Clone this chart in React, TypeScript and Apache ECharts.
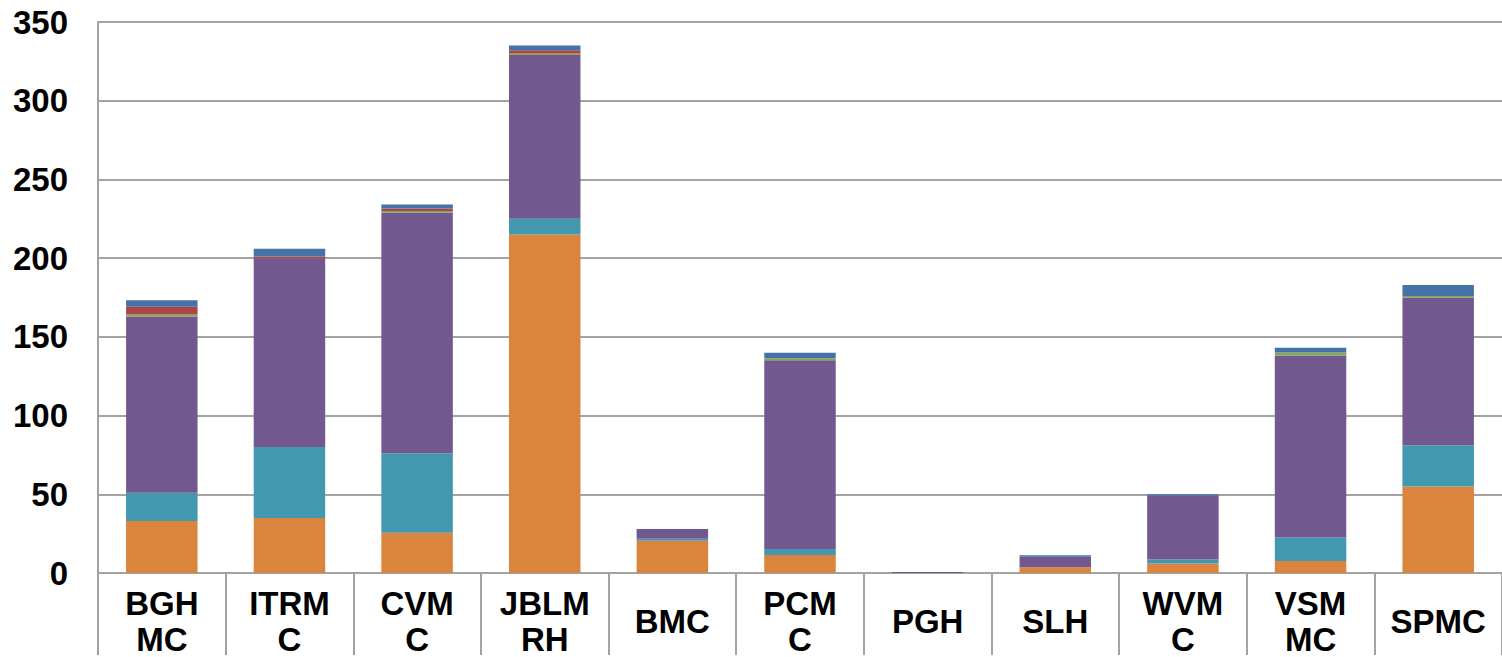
import React, { useEffect, useRef } from "react";
import * as echarts from "echarts";

const categories = ["BGH\nMC", "ITRM\nC", "CVM\nC", "JBLM\nRH", "BMC", "PCM\nC", "PGH", "SLH", "WVM\nC", "VSM\nMC", "SPMC"];
const orangeVals = [33, 35, 25.5, 215, 20.5, 11.5, 0, 3.6, 6, 7.6, 55];
const tealVals = [18, 45, 50.5, 10, 1.2, 3.7, 0, 0, 2.5, 15, 26];
const purpleVals = [112, 120, 153, 104, 6.3, 120, 0.6, 6.8, 40.5, 115.5, 94];
const greenVals = [1.2, 0, 1, 1, 0, 1.2, 0, 0, 0, 2, 1];
const redVals = [5, 1, 1.5, 2, 0, 0, 0, 0, 0, 0, 0];
const blueVals = [4, 5, 2.5, 3, 0, 3.5, 0, 0.9, 1, 3, 7];

const seriesDefs = [
  { name: "Orange", data: orangeVals, color: "#DB843D" },
  { name: "Teal", data: tealVals, color: "#4198AF" },
  { name: "Purple", data: purpleVals, color: "#71588F" },
  { name: "Green", data: greenVals, color: "#89A54E" },
  { name: "Red", data: redVals, color: "#AA4643" },
  { name: "Blue", data: blueVals, color: "#4572A7" },
];

const FONT = "'Liberation Sans', Arial, sans-serif";
const GRAY = "#a3a3a3";

export default function App() {
  const ref = useRef<HTMLDivElement>(null);
  useEffect(() => {
    if (!ref.current) return;
    const chart = echarts.init(ref.current, null, { renderer: "svg" });
    chart.setOption({
      animation: false,
      backgroundColor: "#ffffff",
      grid: { left: 98, right: 0, top: 22, bottom: 82, containLabel: false },
      xAxis: {
        type: "category",
        data: categories,
        boundaryGap: true,
        axisLine: { show: true, lineStyle: { color: GRAY, width: 2 } },
        axisTick: { show: true, interval: 0, length: 82, lineStyle: { color: GRAY, width: 2 } },
        axisLabel: {
          interval: 0,
          color: "#000",
          fontFamily: FONT,
          fontWeight: "bold",
          fontSize: 33,
          lineHeight: 36,
          verticalAlign: "middle",
          margin: 48,
        },
      },
      yAxis: {
        type: "value",
        min: 0,
        max: 350,
        interval: 50,
        axisLine: { show: true, lineStyle: { color: GRAY, width: 2 } },
        axisTick: { show: false },
        splitLine: { show: true, lineStyle: { color: GRAY, width: 2 } },
        axisLabel: {
          color: "#000",
          fontFamily: FONT,
          fontWeight: "bold",
          fontSize: 33,
          margin: 30,
        },
      },
      series: seriesDefs.map((s) => ({
        name: s.name,
        type: "bar",
        stack: "total",
        data: s.data,
        barWidth: "56%",
        itemStyle: { color: s.color },
      })),
    });
    return () => chart.dispose();
  }, []);
  return (
    <div
      ref={ref}
      style={{ position: "fixed", left: 0, top: 0, width: 1502, height: 657 }}
    />
  );
}
